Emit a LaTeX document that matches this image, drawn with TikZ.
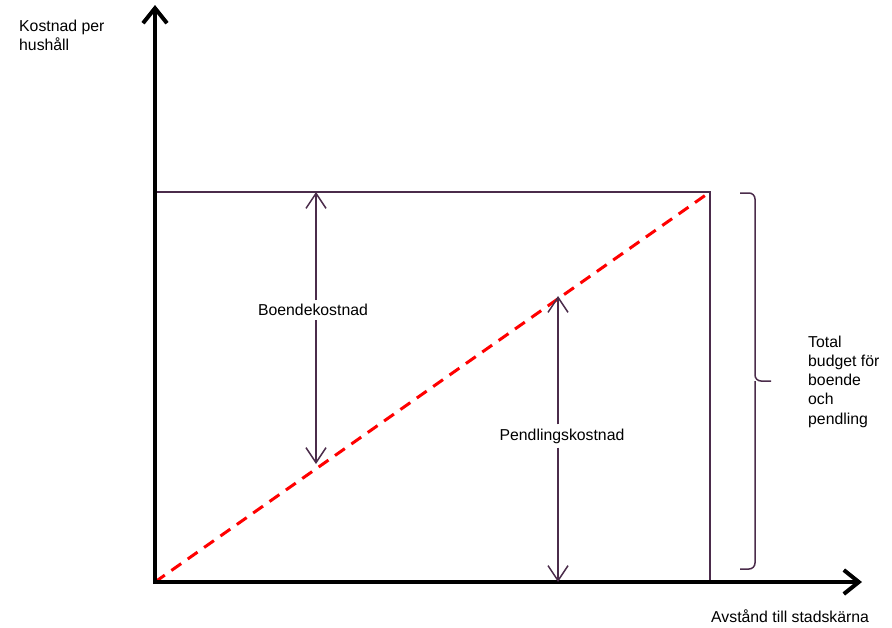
\documentclass[tikz,border=0pt]{standalone}
\usepackage{fontspec}
\setmainfont{Liberation Sans}
\usetikzlibrary{arrows.meta, positioning}
\definecolor{darkplum}{HTML}{4B2C4B}
\definecolor{dashred}{HTML}{FF0000}

\begin{document}
\begin{tikzpicture}[x=1pt, y=-1pt]
% Define styles
\tikzstyle{axis} = [line width=4pt, black, -{Straight Barb[length=15pt,width=24pt]}]
\tikzstyle{frame} = [line width=1.6pt, darkplum]
\tikzstyle{measure} = [line width=1.5pt, darkplum, -{Straight Barb[length=15pt,width=20pt]}]
\tikzstyle{budget} = [dash pattern=on 12pt off 8pt, line width=3pt, color=dashred]
\tikzstyle{label} = [inner sep=0pt, font=\fontsize{15.8}{19.3}\selectfont, align=left]
\tikzstyle{cut} = [inner sep=4pt, fill=white, font=\fontsize{15.8}{19.3}\selectfont]
\tikzstyle{bracket} = [line width=1.5pt, darkplum, rounded corners=6pt]

\useasboundingbox (0,0) rectangle (892,627);

% Corners
\coordinate (origin) at (155,582);
\coordinate (ytip) at (155,5);
\coordinate (xtip) at (862,582);
\coordinate (topleft) at (155,192);
\coordinate (topright) at (710,192);
\coordinate (botright) at (710,582);
\coordinate (housetop) at (316,192);
\coordinate (housebot) at (316,464);
\coordinate (commtop) at (558,296);
\coordinate (commbot) at (558,582);

% Box and budget line
\draw[frame] (topleft) -- (topright) -- (botright);
\draw[budget] (origin) -- (topright);

% Axes
\draw[axis] ([yshift=-2pt]origin) -- (ytip);
\draw[axis] ([xshift=-2pt]origin) -- (xtip);

% Nodes
\node (house) [cut] at (313,310) {Boendekostnad};
\node (comm) [cut] at (562,436) {Pendlingskostnad};
\draw[measure] (house.north -| housetop) -- (housetop);
\draw[measure] (house.south -| housebot) -- (housebot);
\draw[measure] (comm.north -| commtop) -- (commtop);
\draw[measure] (comm.south -| commbot) -- (commbot);

% Brace
\coordinate (bracetop) at (740,193);
\coordinate (bracebot) at (740,569);
\coordinate (bracetip) at (771,381);
\draw[bracket] (bracetop) -| (755,381) -- (bracetip);
\draw[bracket] (bracebot) -| (755,381);

\node (ylabel) [label, anchor=north west] at (19,19.4) {Kostnad per\\hushåll};
\node (xlabel) [label, anchor=base west] at (711,622.7) {Avstånd till stadskärna};
\node (total) [label, anchor=north west] at (808,335.4) {Total\\budget för\\boende\\och\\pendling};

\end{tikzpicture}
\end{document}
